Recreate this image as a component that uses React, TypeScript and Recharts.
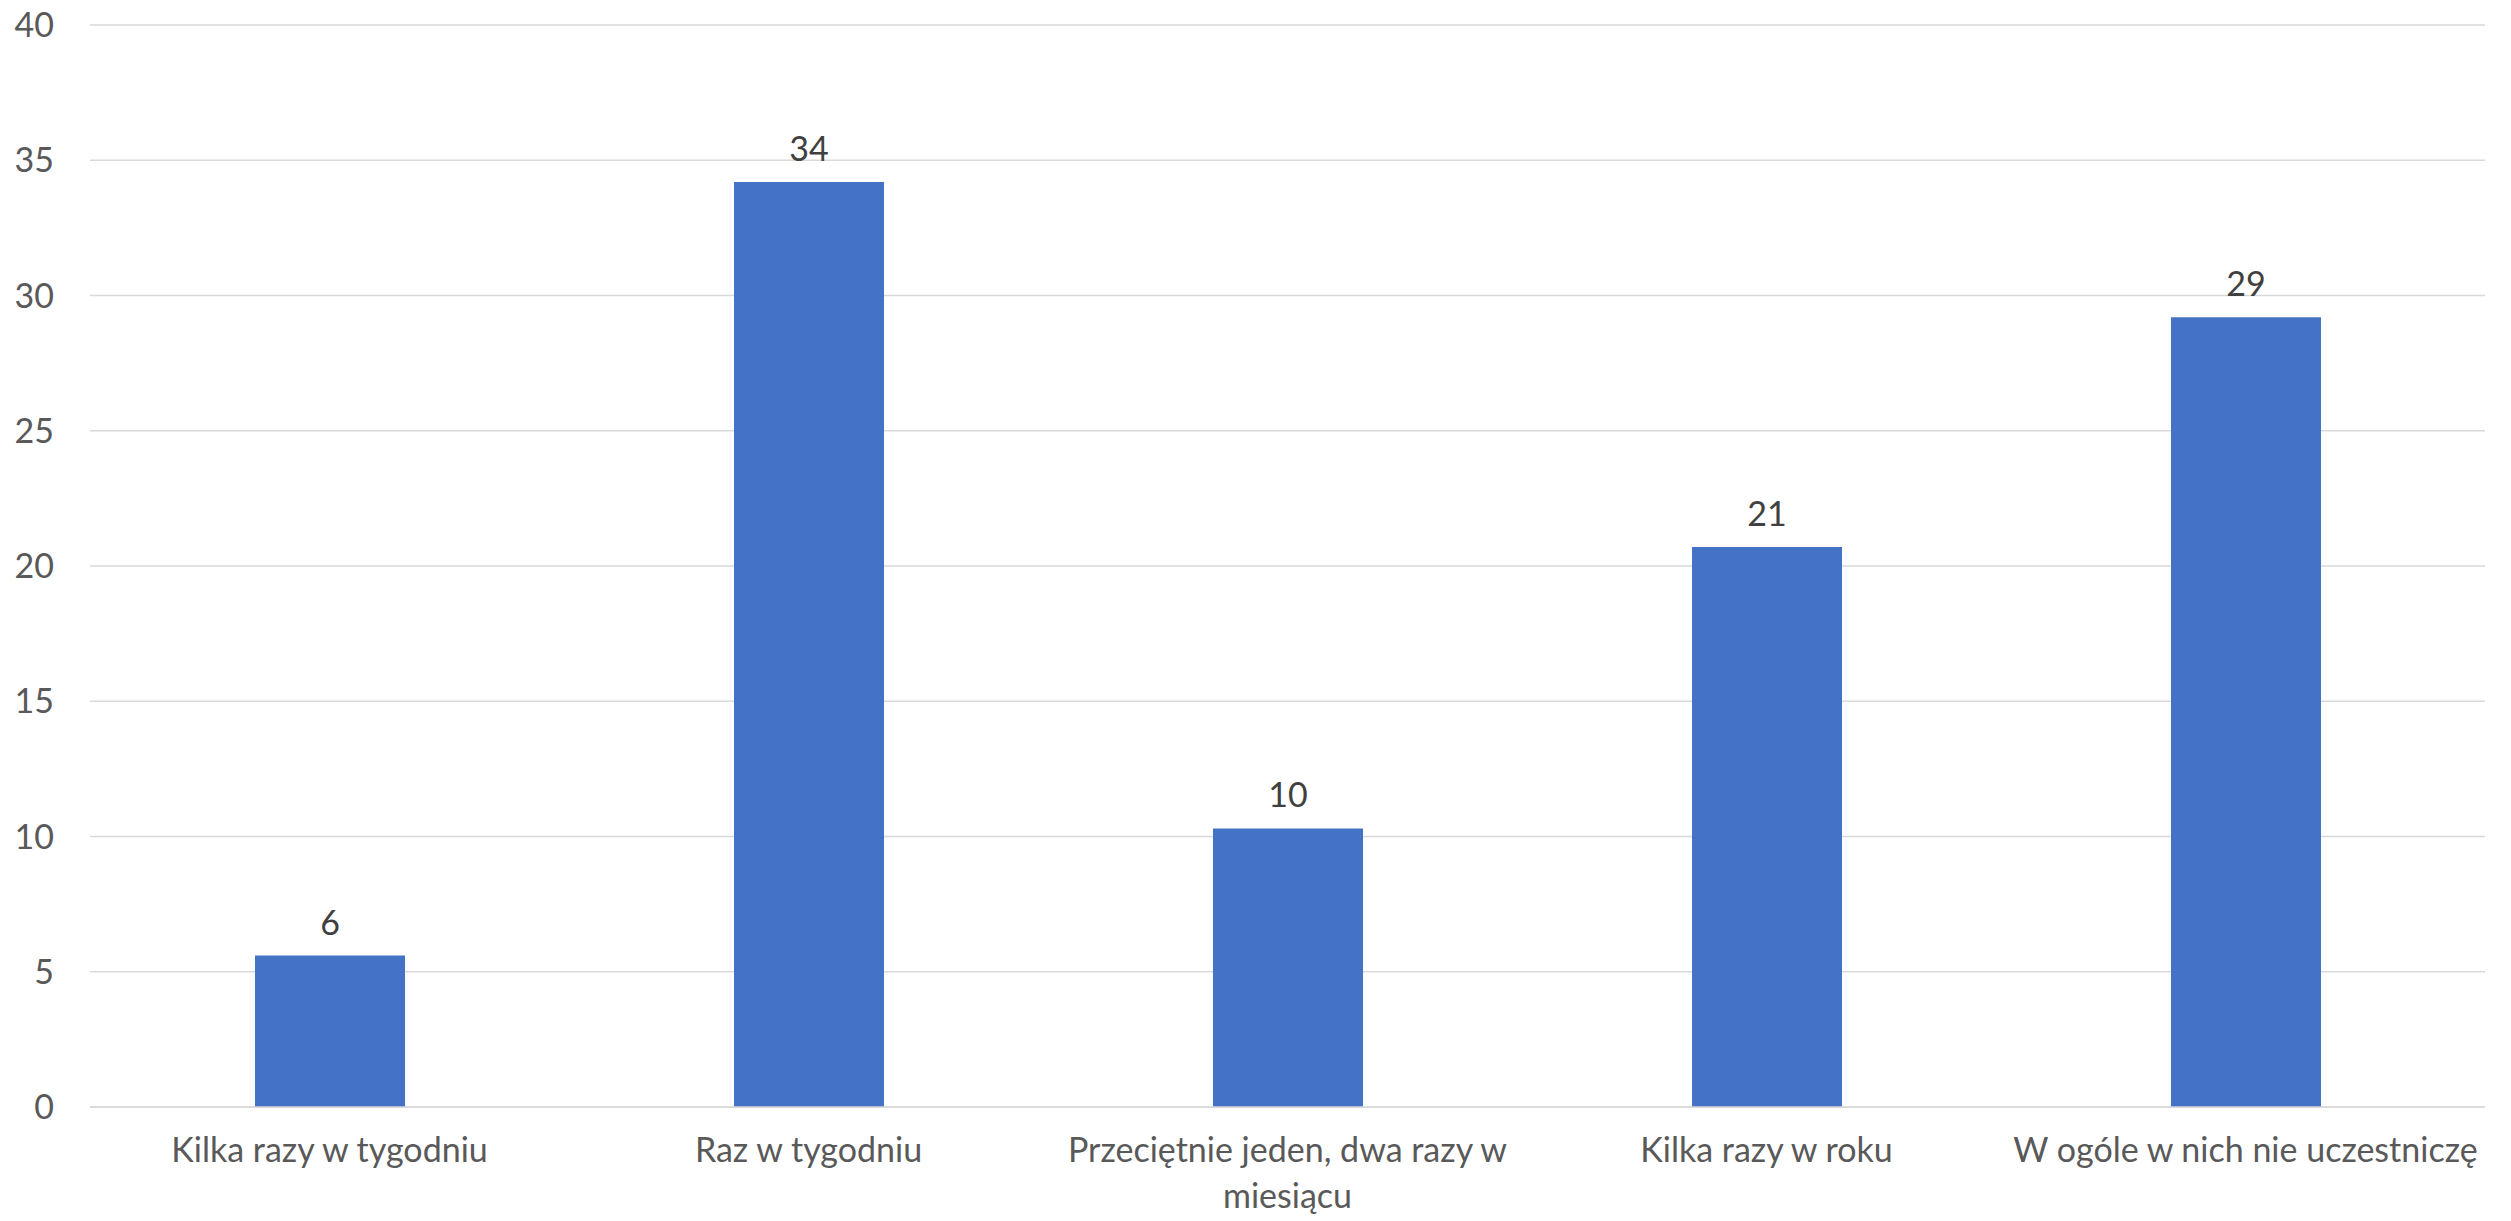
import { BarChart, Bar, XAxis, YAxis, CartesianGrid, LabelList } from 'recharts'

// Częstotliwość uczestnictwa — słupki z etykietami zaokrąglonymi do całości

const CATEGORIES = [
  'Kilka razy w tygodniu',
  'Raz w tygodniu',
  'Przeciętnie jeden, dwa razy w\nmiesiącu',
  'Kilka razy w roku',
  'W ogóle w nich nie uczestniczę',
]
const VALUES = [5.6, 34.2, 10.3, 20.7, 29.2]
const Y_TICKS = [0, 5, 10, 15, 20, 25, 30, 35, 40]

const BAR = '#4472C4'
const GRID = '#D9D9D9'
const AXIS_TEXT = '#595959'
const LABEL_TEXT = '#404040'
const FONT = 'Lato, "Open Sans", sans-serif'
const FONT_SIZE = 34

const data = CATEGORIES.map((name, i) => ({ name, value: VALUES[i] }))

function CategoryTick({ x, y, payload }: any) {
  const lines = String(payload.value).split('\n')
  return (
    <text x={x} y={y} textAnchor="middle" fill={AXIS_TEXT} fontFamily={FONT} fontSize={FONT_SIZE}>
      {lines.map((line, i) => (
        <tspan key={i} x={x} dy={i === 0 ? '0.71em' : 46}>
          {line}
        </tspan>
      ))}
    </text>
  )
}

export default function App() {
  return (
    <div style={{ position: 'absolute', left: 0, top: 0, background: '#fff' }}>
      <BarChart
        width={2511}
        height={1221}
        data={data}
        margin={{ top: 25, right: 26, left: 0, bottom: 0 }}
      >
        <CartesianGrid vertical={false} stroke={GRID} strokeWidth={1.5} />
        <XAxis
          dataKey="name"
          interval={0}
          height={114}
          axisLine={{ stroke: GRID, strokeWidth: 1.5 }}
          tickLine={false}
          tickMargin={25}
          tick={<CategoryTick />}
        />
        <YAxis
          domain={[0, 40]}
          ticks={Y_TICKS}
          width={90}
          axisLine={false}
          tickLine={false}
          tickMargin={30}
          tick={{ fill: AXIS_TEXT, fontFamily: FONT, fontSize: FONT_SIZE }}
        />
        <Bar dataKey="value" fill={BAR} barSize={150} isAnimationActive={false}>
          <LabelList
            dataKey="value"
            position="top"
            offset={21}
            formatter={(v: any) => Math.round(Number(v))}
            fill={LABEL_TEXT}
            fontFamily={FONT}
            fontSize={FONT_SIZE}
          />
        </Bar>
      </BarChart>
    </div>
  )
}
